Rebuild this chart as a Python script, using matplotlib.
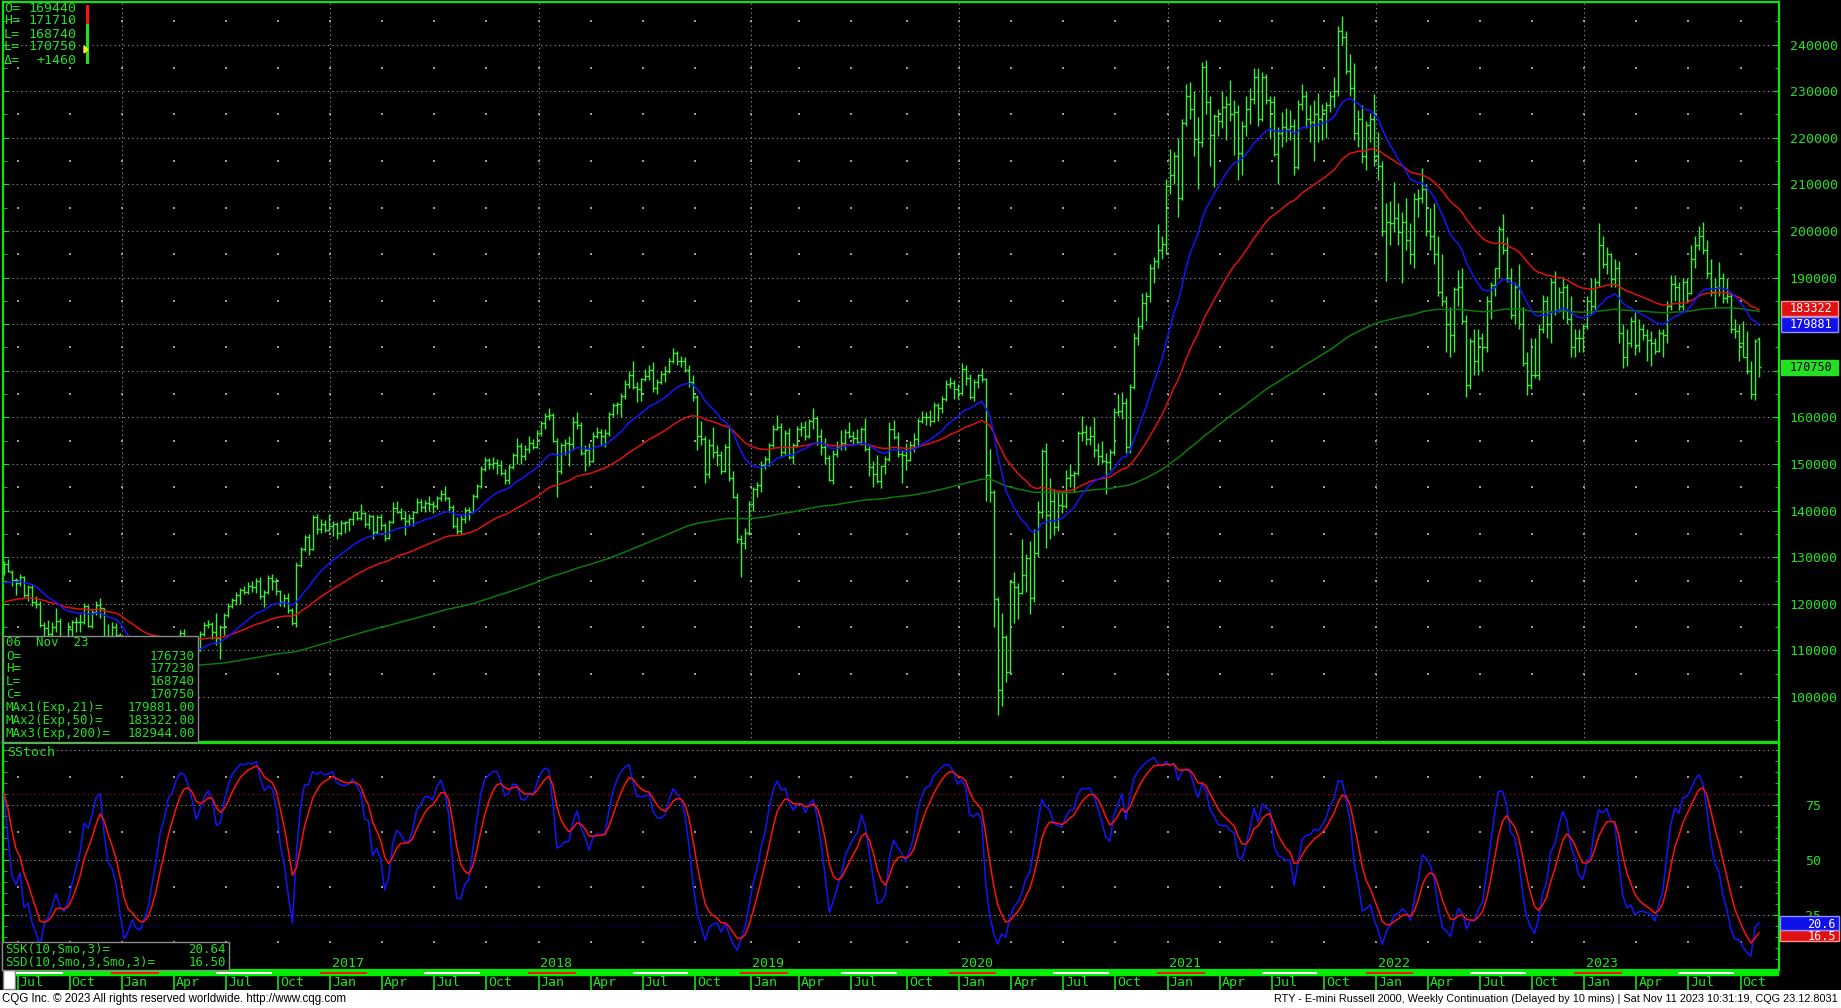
import numpy as np
import pandas as pd
import matplotlib
matplotlib.use("Agg")
import matplotlib.pyplot as plt
from matplotlib.patches import Rectangle, Polygon
from matplotlib.transforms import blended_transform_factory

W, H = 1841, 1008
plt.rcParams["font.family"] = ["DejaVu Sans Mono"]

start_week = "2015-06-15"

# weekly bars in index points (the axis shows them x100), one row per year
opens = [
    1272, 1286, 1268, 1252, 1245, 1258, 1218, 1236, 1204, 1200, 1154, 1148, 1136, 1150, 1164, 1112, 1116, 1146, 1160, 1162, 1160, 1196, 1152, 1182, 1198, 1190, 1126, 1130, 1150,
    1134, 1074, 1006, 1010, 1032, 988, 984, 1016, 1030, 1078, 1086, 1096, 1076, 1112, 1090, 1122, 1138, 1126, 1110, 1104, 1100, 1136, 1154, 1156, 1140, 1126, 1150, 1176, 1196, 1208, 1218, 1230, 1226, 1238, 1236, 1250, 1216, 1226, 1256, 1248, 1228, 1204, 1212, 1186, 1158, 1284, 1318, 1344, 1318, 1386, 1360, 1372,
    1358, 1368, 1372, 1352, 1374, 1376, 1382, 1396, 1384, 1394, 1372, 1388, 1354, 1386, 1370, 1342, 1376, 1406, 1398, 1384, 1378, 1384, 1398, 1418, 1408, 1416, 1414, 1410, 1428, 1436, 1426, 1408, 1366, 1356, 1382, 1402, 1396, 1432, 1452, 1490, 1508, 1500, 1502, 1498, 1480, 1466, 1494, 1520, 1538, 1518, 1532, 1546,
    1536, 1566, 1588, 1602, 1606, 1550, 1484, 1540, 1546, 1542, 1590, 1584, 1524, 1530, 1506, 1560, 1568, 1560, 1566, 1608, 1626, 1628, 1646, 1672, 1690, 1666, 1660, 1682, 1688, 1702, 1662, 1676, 1694, 1700, 1722, 1738, 1720, 1720, 1702, 1676, 1644, 1560, 1554, 1478, 1540, 1526, 1520, 1484, 1536, 1470, 1430, 1340,
    1330, 1352, 1414, 1446, 1454, 1498, 1510, 1540, 1576, 1580, 1526, 1566, 1516, 1540, 1576, 1580, 1560, 1592, 1598, 1560, 1536, 1512, 1466, 1522, 1536, 1546, 1568, 1560, 1556, 1548, 1574, 1532, 1494, 1478, 1464, 1496, 1510, 1576, 1558, 1522, 1520, 1508, 1540, 1554, 1592, 1600, 1600, 1592, 1626, 1620, 1640, 1672,
    1674, 1660, 1652, 1704, 1684, 1644, 1676, 1690, 1682, 1476, 1440, 1210, 1016, 1128, 1054, 1246, 1236, 1224, 1262, 1298, 1212, 1308, 1396, 1528, 1390, 1420, 1364, 1412, 1410, 1470, 1476, 1480, 1566, 1568, 1554, 1560, 1530, 1518, 1506, 1504, 1526, 1612, 1614, 1630, 1536, 1666, 1770, 1796, 1846, 1860, 1920, 1936, 1960,
    1972, 2096, 2120, 2160, 2070, 2232, 2290, 2262, 2198, 2190, 2352, 2276, 2206, 2246, 2236, 2266, 2272, 2250, 2256, 2168, 2226, 2262, 2284, 2330, 2240, 2330, 2280, 2276, 2166, 2210, 2222, 2218, 2226, 2138, 2272, 2290, 2240, 2234, 2250, 2240, 2260, 2270, 2290, 2300, 2430, 2416, 2344, 2306, 2210, 2240, 2160, 2228,
    2240, 2160, 2140, 2000, 2020, 2016, 2028, 1998, 2020, 1980, 1950, 2068, 2070, 2090, 2000, 1990, 1950, 1870, 1850, 1800, 1776, 1876, 1880, 1806, 1670, 1764, 1720, 1770, 1750, 1850, 1884, 1920, 2004, 1960, 1900, 1820, 1880, 1800, 1716, 1670, 1690, 1690, 1790, 1850, 1800, 1890, 1830, 1870, 1880, 1810, 1750, 1770,
    1770, 1796, 1850, 1840, 1890, 1970, 1930, 1950, 1896, 1920, 1780, 1730, 1760, 1806, 1756, 1790, 1776, 1766, 1760, 1742, 1780, 1776, 1840, 1886, 1880, 1840, 1890, 1866, 1940, 1970, 1990, 1960, 1910, 1870, 1880, 1900, 1856, 1860, 1790, 1786, 1760, 1730, 1700, 1650, 1767.3,
]
highs = [
    1292, 1296, 1272, 1256, 1264, 1260, 1240, 1242, 1216, 1206, 1162, 1166, 1160, 1190, 1170, 1128, 1162, 1166, 1172, 1178, 1202, 1198, 1186, 1206, 1212, 1192, 1156, 1162, 1158,
    1138, 1090, 1022, 1040, 1046, 1000, 1026, 1042, 1086, 1092, 1102, 1098, 1116, 1114, 1126, 1144, 1146, 1128, 1126, 1110, 1142, 1162, 1166, 1160, 1180, 1154, 1180, 1202, 1212, 1226, 1234, 1238, 1246, 1248, 1256, 1258, 1230, 1262, 1264, 1256, 1230, 1220, 1224, 1190, 1290, 1322, 1348, 1350, 1390, 1392, 1382, 1380,
    1392, 1378, 1376, 1380, 1378, 1384, 1398, 1400, 1414, 1398, 1392, 1390, 1390, 1392, 1374, 1380, 1418, 1420, 1406, 1400, 1392, 1400, 1428, 1424, 1422, 1432, 1420, 1432, 1444, 1452, 1430, 1412, 1386, 1390, 1408, 1408, 1436, 1458, 1496, 1514, 1512, 1514, 1510, 1508, 1490, 1500, 1524, 1556, 1544, 1540, 1560, 1554,
    1572, 1592, 1610, 1620, 1610, 1556, 1546, 1554, 1560, 1600, 1612, 1590, 1540, 1544, 1568, 1580, 1576, 1574, 1612, 1630, 1634, 1652, 1680, 1700, 1722, 1676, 1684, 1704, 1712, 1718, 1682, 1700, 1710, 1728, 1748, 1742, 1732, 1730, 1712, 1690, 1648, 1592, 1560, 1554, 1580, 1540, 1528, 1542, 1584, 1486, 1438, 1348,
    1362, 1420, 1450, 1462, 1506, 1518, 1546, 1584, 1606, 1588, 1572, 1578, 1546, 1582, 1590, 1592, 1596, 1620, 1604, 1574, 1556, 1520, 1530, 1550, 1572, 1574, 1590, 1570, 1576, 1580, 1598, 1540, 1506, 1520, 1498, 1518, 1590, 1594, 1568, 1530, 1544, 1550, 1566, 1598, 1614, 1612, 1616, 1632, 1630, 1646, 1680, 1686,
    1680, 1672, 1716, 1712, 1692, 1682, 1694, 1706, 1684, 1532, 1444, 1214, 1180, 1134, 1252, 1268, 1244, 1340, 1306, 1334, 1360, 1420, 1532, 1546, 1470, 1446, 1440, 1440, 1488, 1500, 1486, 1570, 1602, 1584, 1582, 1600, 1546, 1550, 1524, 1532, 1620, 1650, 1654, 1642, 1672, 1780, 1816, 1866, 1870, 1930, 1944, 2014, 1990,
    2112, 2176, 2170, 2200, 2240, 2316, 2320, 2300, 2244, 2362, 2366, 2290, 2250, 2262, 2300, 2290, 2324, 2280, 2270, 2236, 2290, 2306, 2350, 2350, 2340, 2336, 2290, 2290, 2222, 2256, 2264, 2260, 2240, 2280, 2316, 2300, 2270, 2280, 2296, 2272, 2276, 2300, 2330, 2440, 2462, 2430, 2380, 2360, 2260, 2270, 2236, 2254,
    2294, 2212, 2150, 2060, 2064, 2106, 2060, 2040, 2070, 2016, 2082, 2090, 2136, 2100, 2050, 2060, 1990, 1950, 1860, 1836, 1880, 1916, 1920, 1820, 1770, 1790, 1790, 1780, 1860, 1890, 1920, 2010, 2036, 1986, 1920, 1890, 1930, 1836, 1740, 1770, 1770, 1800, 1862, 1860, 1900, 1914, 1880, 1902, 1886, 1860, 1790, 1790,
    1800, 1860, 1900, 1900, 2018, 1990, 1966, 1952, 1940, 1936, 1800, 1790, 1816, 1826, 1810, 1800, 1790, 1786, 1770, 1790, 1790, 1850, 1906, 1906, 1890, 1900, 1900, 1970, 1990, 2010, 2020, 1980, 1940, 1900, 1934, 1910, 1900, 1866, 1810, 1800, 1806, 1786, 1722, 1768, 1772.3,
]
lows = [
    1262, 1268, 1238, 1218, 1238, 1214, 1206, 1196, 1190, 1150, 1082, 1120, 1128, 1140, 1102, 1080, 1112, 1130, 1140, 1140, 1156, 1150, 1148, 1176, 1170, 1120, 1110, 1128, 1130,
    1068, 1002, 955, 990, 985, 943, 980, 998, 1024, 1058, 1070, 1068, 1074, 1084, 1088, 1118, 1114, 1100, 1096, 1084, 1098, 1130, 1148, 1124, 1112, 1082, 1134, 1172, 1190, 1198, 1200, 1222, 1220, 1226, 1224, 1210, 1194, 1222, 1230, 1218, 1196, 1194, 1180, 1154, 1150, 1280, 1314, 1304, 1316, 1350, 1352, 1354,
    1356, 1346, 1340, 1348, 1352, 1356, 1370, 1380, 1380, 1364, 1360, 1340, 1350, 1358, 1334, 1340, 1374, 1394, 1380, 1348, 1370, 1366, 1394, 1400, 1396, 1400, 1394, 1404, 1420, 1420, 1398, 1362, 1350, 1350, 1374, 1380, 1394, 1428, 1448, 1484, 1490, 1490, 1478, 1476, 1456, 1456, 1490, 1500, 1500, 1508, 1524, 1532,
    1534, 1560, 1574, 1594, 1548, 1430, 1478, 1520, 1496, 1530, 1574, 1520, 1484, 1496, 1504, 1556, 1538, 1536, 1560, 1600, 1608, 1600, 1640, 1664, 1660, 1634, 1636, 1678, 1680, 1654, 1650, 1672, 1676, 1696, 1716, 1712, 1708, 1698, 1666, 1636, 1530, 1540, 1460, 1470, 1512, 1496, 1478, 1482, 1464, 1426, 1330, 1258,
    1318, 1348, 1400, 1430, 1440, 1490, 1496, 1536, 1572, 1518, 1520, 1510, 1500, 1536, 1560, 1552, 1556, 1574, 1540, 1520, 1500, 1464, 1456, 1516, 1530, 1530, 1556, 1540, 1544, 1540, 1528, 1474, 1450, 1460, 1448, 1478, 1506, 1554, 1516, 1460, 1488, 1506, 1526, 1536, 1588, 1584, 1582, 1590, 1592, 1610, 1636, 1662,
    1640, 1640, 1648, 1670, 1640, 1636, 1664, 1676, 1420, 1418, 1150, 962, 980, 1032, 1052, 1158, 1168, 1220, 1226, 1178, 1204, 1300, 1384, 1320, 1340, 1348, 1356, 1394, 1406, 1450, 1440, 1476, 1550, 1540, 1540, 1516, 1498, 1502, 1436, 1488, 1520, 1604, 1596, 1524, 1524, 1660, 1756, 1790, 1806, 1848, 1888, 1920, 1940,
    1950, 2080, 2100, 2030, 2066, 2226, 2240, 2160, 2090, 2180, 2250, 2140, 2094, 2204, 2220, 2196, 2236, 2162, 2110, 2120, 2204, 2230, 2272, 2226, 2236, 2272, 2200, 2160, 2100, 2180, 2190, 2196, 2120, 2132, 2260, 2220, 2190, 2150, 2190, 2196, 2200, 2256, 2266, 2290, 2400, 2336, 2290, 2196, 2180, 2146, 2130, 2190,
    2140, 2110, 1990, 1892, 1970, 1998, 1970, 1888, 1960, 1930, 1920, 2030, 2060, 1990, 1960, 1930, 1860, 1840, 1740, 1730, 1740, 1840, 1800, 1644, 1660, 1690, 1690, 1700, 1740, 1810, 1860, 1900, 1950, 1890, 1810, 1800, 1790, 1710, 1648, 1660, 1684, 1680, 1780, 1770, 1760, 1820, 1826, 1810, 1800, 1730, 1730, 1740,
    1740, 1790, 1820, 1830, 1880, 1920, 1908, 1880, 1880, 1760, 1706, 1710, 1750, 1734, 1740, 1766, 1720, 1710, 1736, 1740, 1730, 1760, 1830, 1850, 1830, 1830, 1846, 1864, 1920, 1960, 1950, 1900, 1860, 1836, 1860, 1846, 1846, 1780, 1770, 1720, 1730, 1694, 1640, 1638, 1687.4,
]
closes = [
    1286, 1270, 1252, 1245, 1258, 1218, 1236, 1204, 1200, 1154, 1148, 1136, 1150, 1164, 1112, 1116, 1146, 1160, 1162, 1160, 1196, 1152, 1182, 1198, 1190, 1126, 1130, 1150, 1134,
    1074, 1006, 1010, 1032, 988, 984, 1016, 1030, 1078, 1086, 1096, 1076, 1112, 1090, 1122, 1138, 1126, 1110, 1104, 1100, 1136, 1154, 1156, 1140, 1126, 1150, 1176, 1196, 1208, 1218, 1230, 1226, 1238, 1236, 1250, 1216, 1226, 1256, 1248, 1228, 1204, 1212, 1186, 1158, 1284, 1318, 1344, 1318, 1386, 1360, 1372, 1358,
    1368, 1372, 1352, 1374, 1376, 1382, 1396, 1384, 1394, 1372, 1388, 1354, 1386, 1370, 1342, 1376, 1406, 1398, 1384, 1378, 1384, 1398, 1418, 1408, 1416, 1414, 1410, 1428, 1436, 1426, 1408, 1366, 1356, 1382, 1402, 1396, 1432, 1452, 1490, 1508, 1500, 1502, 1498, 1480, 1466, 1494, 1520, 1538, 1518, 1532, 1546, 1536,
    1566, 1588, 1602, 1606, 1550, 1484, 1540, 1546, 1542, 1590, 1584, 1524, 1530, 1506, 1560, 1568, 1560, 1566, 1608, 1626, 1628, 1646, 1672, 1690, 1666, 1660, 1682, 1688, 1702, 1662, 1676, 1694, 1700, 1722, 1738, 1720, 1720, 1702, 1676, 1644, 1560, 1554, 1478, 1540, 1526, 1520, 1484, 1536, 1470, 1430, 1340, 1330,
    1352, 1414, 1446, 1454, 1498, 1510, 1540, 1576, 1580, 1526, 1566, 1516, 1540, 1576, 1580, 1560, 1592, 1598, 1560, 1536, 1512, 1466, 1522, 1536, 1546, 1568, 1560, 1556, 1548, 1574, 1532, 1494, 1478, 1464, 1496, 1510, 1576, 1558, 1522, 1520, 1508, 1540, 1554, 1592, 1600, 1600, 1592, 1626, 1620, 1640, 1672, 1674,
    1660, 1652, 1704, 1684, 1644, 1676, 1690, 1682, 1476, 1440, 1210, 1016, 1128, 1054, 1246, 1236, 1224, 1262, 1298, 1212, 1308, 1396, 1528, 1390, 1420, 1364, 1412, 1410, 1470, 1476, 1480, 1566, 1568, 1554, 1560, 1530, 1518, 1506, 1504, 1526, 1612, 1614, 1630, 1536, 1666, 1770, 1796, 1846, 1860, 1920, 1936, 1960, 1972,
    2096, 2120, 2160, 2070, 2232, 2290, 2262, 2198, 2190, 2352, 2276, 2206, 2246, 2236, 2266, 2272, 2250, 2256, 2168, 2226, 2262, 2284, 2330, 2240, 2330, 2280, 2276, 2166, 2210, 2222, 2218, 2226, 2138, 2272, 2290, 2240, 2234, 2250, 2240, 2260, 2270, 2290, 2300, 2430, 2416, 2344, 2306, 2210, 2240, 2160, 2228, 2240,
    2160, 2140, 2000, 2020, 2016, 2028, 1998, 2020, 1980, 1950, 2068, 2070, 2090, 2000, 1990, 1950, 1870, 1850, 1800, 1776, 1876, 1880, 1806, 1670, 1764, 1720, 1770, 1750, 1850, 1884, 1920, 2004, 1960, 1900, 1820, 1880, 1800, 1716, 1670, 1690, 1690, 1790, 1850, 1800, 1890, 1830, 1870, 1880, 1810, 1750, 1770, 1770,
    1796, 1850, 1840, 1890, 1970, 1930, 1950, 1896, 1920, 1780, 1730, 1760, 1806, 1756, 1790, 1776, 1766, 1760, 1742, 1780, 1776, 1840, 1886, 1880, 1840, 1890, 1866, 1940, 1970, 1990, 1960, 1910, 1870, 1880, 1900, 1856, 1860, 1790, 1786, 1760, 1730, 1700, 1650, 1764, 1707.5,
]

# values of the three averages on the first bar (they come from older history)
ema21_start = 1240
ema50_start = 1200
ema200_start = 1030

price_ticks = list(range(1000, 2401, 100))
hidden_price_labels = [1700, 1800]  # covered by the value boxes in the reference
stoch_ticks = [25, 50, 75]

quote_keys = ["O=", "H=", "L=", "L=", "\u0394="]
quote_vals = ["169440", "171710", "168740", "170750", "+1460"]
bar_date = "06  Nov  23"
bar_keys = ["O=", "H=", "L=", "C=", "MAx1(Exp,21)=", "MAx2(Exp,50)=", "MAx3(Exp,200)="]
bar_vals = ["176730", "177230", "168740", "170750", "179881.00", "183322.00", "182944.00"]
stoch_keys = ["SSK(10,Smo,3)=", "SSD(10,Smo,3,Smo,3)="]
stoch_vals = ["20.64", "16.50"]
# right-edge value boxes: (value, text, face, edge, text colour)
price_boxes = [(1833.22, "183322", "#e01010", "#ff9090", "white"),
               (1798.81, "179881", "#1010e8", "#9090ff", "white"),
               (1707.50, "170750", "#22e022", "#22e022", "black")]
# stochastic boxes: (value, text, face, edge, box top px, box bottom px)
stoch_boxes = [(16.50, "16.5", "#e01010", "#ff9090", 930, 941),
               (20.64, "20.6", "#1010e8", "#9090ff", 916, 930)]

footer_left = "CQG Inc. \u00a9 2023 All rights reserved worldwide. http://www.cqg.com"
footer_right = ("RTY - E-mini Russell 2000, Weekly Continuation (Delayed by 10 mins) | "
                "Sat Nov 11 2023 10:31:19, CQG 23.12.8031")

BAR = "#38f038"
TXT = "#22e022"
EDGE = "#10e010"
GRID = "#9a9a9a"
DOT = (0, (1, 3))

n = len(closes)
assert len(opens) == len(highs) == len(lows) == n
x = np.arange(n)
dates = pd.date_range(start_week, periods=n, freq="7D")
o, h, l, c = (np.array(v, float) for v in (opens, highs, lows, closes))


def ema(vals, span, start):
    a = 2.0 / (span + 1)
    out, e = [], start
    for v in vals:
        e += a * (v - e)
        out.append(e)
    return np.array(out)


def smo(vals, k):
    out, s = [], vals[0]
    for v in vals:
        s += (v - s) / k
        out.append(s)
    return np.array(out)


ma21 = ema(c, 21, ema21_start)
ma50 = ema(c, 50, ema50_start)
ma200 = ema(c, 200, ema200_start)

hh = pd.Series(h).rolling(10, min_periods=1).max().values
ll = pd.Series(l).rolling(10, min_periods=1).min().values
ssk = 100 * smo(c - ll, 3) / smo(hh - ll, 3)
ssd = smo(ssk, 3)

# first bar of each quarter month
qpos = []
for i in range(1, n):
    if dates[i].month != dates[i - 1].month and dates[i].month in (1, 4, 7, 10):
        qpos.append((i + 0.4, dates[i].strftime("%b"), dates[i].month == 1, dates[i].year))

fig = plt.figure(figsize=(W / 100, H / 100), dpi=100, facecolor="black")
xl = (-0.25, 443.0)


def frame(a):
    a.set_facecolor("black")
    a.set_xlim(*xl)
    a.set_xticks([])
    for s in a.spines.values():
        s.set_color(EDGE)
        s.set_linewidth(1.6)


# ---- price panel
ax = fig.add_axes([3 / W, 1 - 742 / H, 1776 / W, 740 / H])
frame(ax)
ax.set_ylim(903.5, 2491.2)
for lv in price_ticks:
    ax.axhline(lv, color=GRID, lw=0.8, ls=DOT, zorder=0)
for xp, lab, jan, yr in qpos:
    if jan:
        ax.axvline(xp, color=GRID, lw=0.8, ls=DOT, zorder=0)
    ax.scatter([xp] * 15, np.arange(1050, 2500, 100), s=1.2, marker="s", color=GRID, lw=0, zorder=0)

ax.vlines(x, l, h, color=BAR, lw=1.0, zorder=2)
ax.hlines(o, x - 0.5, x, color=BAR, lw=1.0, zorder=2)
ax.hlines(c, x, x + 0.5, color=BAR, lw=1.0, zorder=2)
ax.plot(x, ma200, color="#0a7a0a", lw=1.1, zorder=3)
ax.plot(x, ma50, color="#e01010", lw=1.1, zorder=3)
ax.plot(x, ma21, color="#1414ff", lw=1.1, zorder=3)

ax.set_yticks(price_ticks)
ax.set_yticklabels(["" if v in hidden_price_labels else str(v * 100) for v in price_ticks])
ax.set_yticks(np.arange(950, 2500, 50), minor=True)
ax.tick_params(axis="y", which="both", direction="in", left=True, right=True,
               labelleft=False, labelright=True, colors=EDGE, labelcolor=TXT,
               labelsize=9.5, pad=7.8)
ax.tick_params(axis="y", which="major", length=4)
ax.tick_params(axis="y", which="minor", length=3)

# ---- stochastic panel
ax2 = fig.add_axes([3 / W, 1 - 970 / H, 1776 / W, 227 / H])
frame(ax2)
ax2.set_ylim(-0.14, 103.0)
for lv in (25, 50, 75, 100):
    ax2.axhline(lv, color=GRID, lw=0.8, ls=DOT, zorder=0)
ax2.axhline(80, color="#c00000", lw=0.8, ls=DOT, zorder=0)
ax2.axhline(20, color="#0000d0", lw=0.8, ls=DOT, zorder=0)
for xp, lab, jan, yr in qpos:
    ax2.scatter([xp] * 4, [12.5, 37.5, 62.5, 87.5], s=1.2, marker="s", color=GRID, lw=0, zorder=0)
    # the 2016 label sits under the info box in the reference
    if jan and xp > 60:
        ax2.text(xp + 0.4, 3.0, str(yr), color=TXT, fontsize=9.5, ha="left", va="center")
ax2.plot(x, ssk, color="#1414ff", lw=1.1, zorder=3)
ax2.plot(x, ssd, color="#ff1010", lw=1.1, zorder=3)
ax2.set_yticks(stoch_ticks)
ax2.set_yticklabels([str(v) for v in stoch_ticks])
ax2.set_yticks(np.arange(5, 101, 5), minor=True)
ax2.tick_params(axis="y", which="both", direction="in", left=True, right=True,
                labelleft=False, labelright=True, colors=EDGE, labelcolor=TXT,
                labelsize=9.5, pad=18.5)
ax2.tick_params(axis="y", which="major", length=4)
ax2.tick_params(axis="y", which="minor", length=3)

# ---- date bar
axd = fig.add_axes([3 / W, 1 - 990 / H, 1776 / W, 20 / H])
axd.set_facecolor("black")
axd.set_xlim(*xl)
axd.set_ylim(0, 20)
axd.set_xticks([])
axd.set_yticks([])
for s in axd.spines.values():
    s.set_visible(False)
axd.axhspan(15, 20, color="#00f000", zorder=1)
for xp, lab, jan, yr in qpos:
    if jan:
        axd.add_patch(Rectangle((xp - 2.6, 16.3), 11.9, 2.0, color="#ff1010", lw=0, zorder=2))
    if lab == "Jul":
        axd.add_patch(Rectangle((xp - 2.5, 16.3), 13.9, 2.0, color="white", lw=0, zorder=2))
    axd.vlines(xp, 0, 15, color=EDGE, lw=1.2)
    axd.text(xp + 0.5, 7.5, lab, color=TXT, fontsize=9.5, ha="left", va="center")


# ---- boxes and texts drawn over the panels
def px_box(x0, y0, x1, y1, fc, ec=None, lw=0.0, z=5):
    fig.add_artist(Rectangle((x0 / W, 1 - y1 / H), (x1 - x0) / W, (y1 - y0) / H,
                             transform=fig.transFigure, facecolor=fc,
                             edgecolor=ec if ec else fc, linewidth=lw, zorder=z))


def px_text(xp, yp, s, ha="left", color=TXT, size=9.0, z=6, **kw):
    fig.text(xp / W, 1 - yp / H, s, ha=ha, va="center", color=color,
             fontsize=size, zorder=z, **kw)


# white scroll box under the first label
px_box(3, 970, 15, 989, "white", "#808080", 1.0, z=7)

# top-left quote
for i, (k, v) in enumerate(zip(quote_keys, quote_vals)):
    yy = 8 + 13 * i
    px_text(4, yy, k, size=9.5)
    px_text(76, yy, v, ha="right", size=9.5)
px_box(86, 5, 89, 24, "#ff1010", z=6)
px_box(86, 24, 89, 64, "#22e022", z=6)
fig.add_artist(Polygon([(84 / W, 1 - 46 / H), (84 / W, 1 - 53 / H), (88 / W, 1 - 49.5 / H)],
                       closed=True, transform=fig.transFigure, color="#f0f020", zorder=7))

# bottom-left bar info
px_box(3, 636, 198, 742, "black", "#8a8a8a", 1.0, z=8)
px_text(6, 643, bar_date, z=9)
for i, (k, v) in enumerate(zip(bar_keys, bar_vals)):
    yy = 656 + 12.9 * i
    px_text(6, yy, k, z=9)
    px_text(195, yy, v, ha="right", z=9)

# stochastic label and info
px_text(7, 753, "SStoch", size=9.5)
px_box(2, 942, 229, 970, "black", "#8a8a8a", 1.0, z=8)
for i, (k, v) in enumerate(zip(stoch_keys, stoch_vals)):
    yy = 949.5 + 12.5 * i
    px_text(5, yy, k, z=9)
    px_text(226, yy, v, ha="right", z=9)

# value boxes on the right scale
trp = blended_transform_factory(fig.transFigure, ax.transData)
bh = 14.5 / 0.46608
for v, s, fc, ec, tc in price_boxes:
    fig.add_artist(Rectangle((1781 / W, v - bh / 2), 57 / W, bh, transform=trp,
                             facecolor=fc, edgecolor=ec, lw=1.0, zorder=6))
    fig.text(1790 / W, v, s, transform=trp, color=tc, fontsize=8.5, va="center",
             ha="left", zorder=7)
for v, s, fc, ec, top, bot in stoch_boxes:
    px_box(1780, top, 1839, bot, fc, ec, 1.0, z=6)
    px_text(1836, (top + bot) / 2 + 1.0, s, ha="right", color="white", size=8.5, z=7)

# footer
px_box(0, 990, W, H, "white", z=4)
fig.text(2 / W, 1 - 999 / H, footer_left, ha="left", va="center", color="black",
         fontsize=8.3, family=["Liberation Sans"], zorder=6)
fig.text(1838 / W, 1 - 999 / H, footer_right, ha="right", va="center", color="black",
         fontsize=7.85, family=["Liberation Sans"], zorder=6)

fig.savefig("out.png", dpi=100, facecolor="black")
